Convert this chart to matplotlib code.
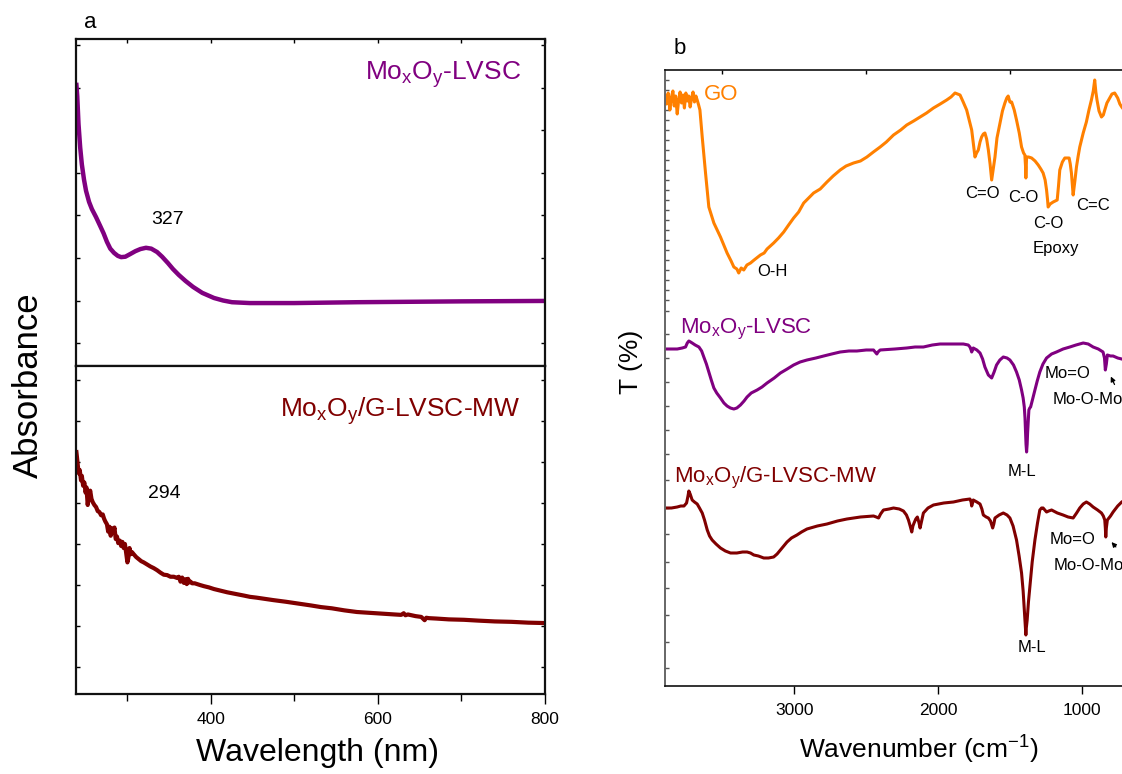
import matplotlib
matplotlib.use('Agg')
import matplotlib.pyplot as plt

plt.rcParams['font.family'] = ['Liberation Sans', 'DejaVu Sans']
plt.rcParams['mathtext.fontset'] = 'custom'
plt.rcParams['mathtext.rm'] = 'Liberation Sans'
plt.rcParams['mathtext.it'] = 'Liberation Sans:italic'
plt.rcParams['mathtext.default'] = 'rm'

# ---------------- data: UV-vis (panel a) ----------------
uv_wl_lvsc = [239.5, 240.5, 242, 244, 246, 248.6, 251, 254.6, 258, 263,
              268, 272, 276, 280, 284.5, 289, 293, 298, 303.6, 310,
              316, 322.7, 329, 336, 342, 349, 355, 362, 370, 379,
              390, 404, 415, 425.6, 447, 500, 575, 700, 800]
uv_abs_lvsc = [6.07, 5.80, 5.15, 4.60, 4.20, 3.84, 3.58, 3.32, 3.15, 2.96,
               2.75, 2.58, 2.38, 2.22, 2.12, 2.05, 2.02, 2.03, 2.09, 2.16,
               2.21, 2.24, 2.22, 2.14, 2.03, 1.88, 1.74, 1.60, 1.46, 1.32,
               1.18, 1.06, 1.00, 0.96, 0.94, 0.94, 0.96, 0.98, 0.99]

uv_wl_mw = [239.5, 240.5, 241.5, 242.5, 243.5, 245, 246, 247.5, 249, 250.5,
            251.5, 253, 254.5, 256, 257.5, 259, 261, 263, 265, 267,
            269, 271, 272.5, 274, 276, 277.5, 279, 280.5, 282, 283.5,
            285, 286.5, 288, 289.5, 291.5, 293, 294.5, 296, 297.5, 299,
            300.5, 301.5, 303, 304.5, 306, 308, 311, 314, 317, 320,
            324, 328, 332, 336, 340, 344, 348, 352, 356, 360,
            362, 364, 366, 368, 370, 371.5, 373, 374.5, 376, 378,
            381, 384, 387, 392, 398, 404, 412, 420, 430, 440,
            447, 455, 465, 475, 490, 500, 510, 520, 532, 545,
            560, 575, 590, 605, 620, 628, 631, 633, 636, 645,
            652, 656, 658, 661, 670, 685, 703, 720, 740, 760,
            780, 801]
uv_abs_mw = [5.24, 5.05, 4.85, 4.72, 4.80, 4.55, 4.66, 4.42, 4.50, 4.25,
             4.38, 3.95, 4.20, 4.30, 4.10, 4.02, 3.95, 3.90, 3.80, 3.78,
             3.70, 3.72, 3.62, 3.55, 3.48, 3.30, 3.42, 3.20, 3.38, 3.28,
             3.40, 3.12, 3.18, 3.02, 3.08, 2.95, 3.05, 2.90, 3.00, 2.78,
             2.55, 2.65, 2.90, 2.75, 2.80, 2.75, 2.68, 2.63, 2.58, 2.55,
             2.50, 2.45, 2.41, 2.36, 2.30, 2.25, 2.24, 2.20, 2.20, 2.17,
             2.20, 2.08, 2.18, 2.05, 2.14, 2.02, 2.15, 2.06, 2.08, 2.04,
             2.04, 2.02, 2.00, 1.97, 1.94, 1.90, 1.86, 1.82, 1.78, 1.74,
             1.71, 1.69, 1.66, 1.63, 1.59, 1.56, 1.53, 1.50, 1.46, 1.43,
             1.38, 1.34, 1.32, 1.30, 1.28, 1.27, 1.31, 1.26, 1.28, 1.24,
             1.22, 1.14, 1.20, 1.19, 1.18, 1.16, 1.15, 1.13, 1.11, 1.10,
             1.08, 1.07]

# ---------------- data: FTIR (panel b) ----------------
ir_wn_go = [3900, 3890, 3878, 3866, 3855, 3845, 3836, 3826, 3815, 3805, 3795, 3785, 3775, 3765,
            3755, 3745, 3735, 3725, 3715, 3705, 3695, 3685, 3676, 3666, 3657, 3641, 3618, 3595,
            3560, 3514, 3468, 3440, 3421, 3400, 3387, 3370, 3352, 3330, 3305, 3280, 3236, 3210,
            3190, 3144, 3110, 3074, 3040, 3005, 2970, 2935, 2900, 2866, 2820, 2773, 2730, 2681,
            2640, 2588, 2540, 2495, 2450, 2403, 2360, 2310, 2260, 2218, 2170, 2125, 2080, 2032,
            1985, 1940, 1910, 1882, 1865, 1847, 1825, 1801, 1785, 1766, 1755, 1743, 1732, 1720,
            1708, 1697, 1685, 1674, 1662, 1650, 1638, 1627, 1615, 1604, 1590, 1569, 1552, 1535,
            1522, 1512, 1500, 1488, 1470, 1454, 1435, 1419, 1405, 1396, 1391, 1389, 1386, 1384,
            1370, 1349, 1325, 1303, 1285, 1269, 1255, 1245, 1238, 1234, 1220, 1199, 1185, 1171,
            1162, 1153, 1135, 1118, 1100, 1088, 1080, 1072, 1065, 1060, 1048, 1037, 1025, 1014,
            990, 968, 950, 933, 920, 910, 902, 894, 880, 863, 850, 840, 825, 806, 790, 771, 750,
            735, 722, 700]
ir_t_go = [590, 582, 593, 576, 589, 595, 580, 590, 572, 586, 594, 583, 591, 578,
           593, 585, 590, 579, 588, 594, 584, 590, 586, 581, 576, 549, 513, 479,
           463, 449, 433, 425, 419, 417, 413, 418, 416, 421, 423, 426, 431, 433,
           437, 443, 448, 454, 461, 468, 474, 483, 488, 493, 497, 504, 510, 516,
           520, 523, 525, 529, 534, 539, 544, 551, 556, 561, 565, 569, 573, 578,
           582, 586, 589, 593, 592, 591, 584, 576, 567, 556, 543, 529, 533, 536,
           544, 549, 552, 553, 547, 536, 522, 506, 518, 529, 548, 563, 575, 583,
           588, 590, 584, 584, 576, 566, 553, 539, 533, 531, 519, 508, 520, 529,
           529, 528, 525, 521, 517, 513, 506, 496, 486, 479, 482, 484, 485, 486,
           500, 516, 524, 528, 528, 528, 522, 513, 500, 491, 505, 519, 530, 539,
           553, 564, 576, 586, 595, 606, 594, 586, 575, 569, 571, 576, 583, 588, 592, 593, 588,
           582, 579, 575]

ir_wn_lvsc = [3900, 3855, 3815, 3780, 3757, 3745, 3734, 3722, 3711, 3690, 3664, 3645, 3630,
              3612, 3595, 3578, 3560, 3540, 3514, 3490, 3468, 3445, 3421, 3400, 3375, 3350,
              3329, 3300, 3259, 3225, 3190, 3140, 3097, 3050, 3005, 2960, 2912, 2850, 2796,
              2740, 2681, 2620, 2565, 2500, 2449, 2432, 2426, 2418, 2403, 2300, 2218, 2160,
              2102, 2040, 1986, 1900, 1824, 1790, 1778, 1770, 1766, 1760, 1755, 1730, 1708,
              1690, 1674, 1650, 1627, 1610, 1593, 1570, 1546, 1520, 1500, 1475, 1454, 1435,
              1419, 1408, 1400, 1395, 1391, 1388, 1384, 1380, 1377, 1372, 1368, 1362, 1356,
              1340, 1326, 1310, 1292, 1270, 1245, 1210, 1176, 1130, 1083, 1040, 990, 955,
              921, 885, 852, 842, 836, 829, 822, 800, 782, 750, 722, 700]
ir_t_lvsc = [337, 337, 337, 338, 339, 343, 345, 344, 343, 341, 339, 335, 329,
             322, 314, 306, 298, 293, 288, 283, 280, 278, 277, 278, 281, 285,
             289, 293, 296, 299, 303, 308, 313, 317, 321, 324, 326, 328, 330,
             332, 334, 335, 335, 336, 336, 333, 332, 334, 336, 337, 338, 339,
             339, 341, 342, 342, 342, 341, 339, 336, 334, 336, 338, 336, 333,
             327, 319, 311, 308, 314, 321, 326, 329, 328, 326, 321, 314, 306,
             296, 288, 279, 268, 253, 242, 234, 242, 253, 266, 276, 278, 279,
             288, 296, 305, 314, 322, 328, 332, 334, 337, 339, 341, 343, 342,
             339, 337, 334, 328, 316, 322, 331, 330, 330, 328, 327, 326]

ir_wn_mw = [3900, 3855, 3815, 3790, 3768, 3750, 3740, 3734, 3725, 3711, 3695, 3676, 3660,
            3641, 3625, 3606, 3590, 3572, 3545, 3514, 3480, 3444, 3400, 3360, 3329, 3305,
            3282, 3250, 3213, 3180, 3144, 3120, 3097, 3075, 3051, 3020, 2982, 2950, 2912,
            2840, 2773, 2700, 2634, 2540, 2449, 2430, 2414, 2400, 2380, 2340, 2310, 2270,
            2241, 2220, 2206, 2194, 2183, 2175, 2167, 2155, 2144, 2134, 2125, 2114, 2102,
            2070, 2032, 1960, 1893, 1830, 1778, 1770, 1766, 1760, 1755, 1730, 1708, 1695,
            1685, 1665, 1650, 1635, 1620, 1612, 1604, 1575, 1546, 1520, 1500, 1478, 1454,
            1436, 1419, 1408, 1396, 1392, 1389, 1386, 1380, 1371, 1361, 1345, 1326, 1308,
            1292, 1280, 1269, 1257, 1245, 1230, 1210, 1170, 1130, 1095, 1060, 1036, 1014,
            990, 968, 945, 921, 890, 863, 850, 840, 836, 833, 829, 822, 800, 782, 750, 722, 700]
ir_t_mw = [178, 178, 179, 180, 180, 183, 190, 195, 192, 186, 184, 182, 178,
           173, 166, 156, 150, 146, 142, 138, 135, 133, 133, 134, 134, 133,
           131, 130, 128, 128, 129, 132, 136, 140, 144, 148, 151, 154, 157,
           160, 162, 165, 167, 169, 170, 169, 168, 172, 176, 177, 178, 177,
           175, 171, 166, 160, 154, 160, 163, 167, 169, 164, 158, 165, 173,
           178, 181, 183, 184, 186, 187, 184, 180, 183, 186, 184, 182, 177,
           171, 169, 168, 165, 158, 162, 168, 171, 173, 171, 168, 160, 146,
           130, 113, 95, 66, 58, 51, 58, 66, 84, 99, 124, 146, 163,
           176, 178, 178, 176, 174, 175, 176, 173, 171, 169, 168, 173, 178,
           182, 184, 182, 179, 176, 173, 170, 166, 158, 149, 158, 166, 170, 174, 180, 184, 186]

# ---------------- styling ----------------
purple = '#800080'
brown = '#800000'
orange = '#FF8000'
W, H = 1122, 774


def box(l, t, r, b):
    return [l / W, 1 - b / H, (r - l) / W, (b - t) / H]


fig = plt.figure(figsize=(W / 100, H / 100), dpi=100)
ax1 = fig.add_axes(box(76, 39, 545, 366))
ax2 = fig.add_axes(box(76, 366, 545, 694))
ax3 = fig.add_axes(box(665, 70, 1168, 686))

# panel a top
ax1.plot(uv_wl_lvsc, uv_abs_lvsc, color=purple, lw=3.2)
ax1.set_xlim(239, 800)
ax1.set_ylim(-0.54, 7.15)
ax1.set_xticks([300, 400, 500, 600, 700, 800])
ax1.set_yticks(range(0, 8))
ax1.tick_params(axis='both', which='both', direction='in', top=True, bottom=False,
                left=True, right=True, labelbottom=False, labelleft=False, length=3, width=1)
ax1.text(0.949, 0.875, r'Mo$_{\mathrm{x}}$O$_{\mathrm{y}}$-LVSC', transform=ax1.transAxes,
         ha='right', va='baseline', color=purple, fontsize=19)
ax1.text(348, 2.9, '327', ha='center', va='center', fontsize=14)

# panel a bottom
ax2.plot(uv_wl_mw, uv_abs_mw, color=brown, lw=3.0)
ax2.set_xlim(239, 800)
ax2.set_ylim(-0.66, 7.34)
ax2.set_xticks([400, 600, 800])
ax2.set_xticks([300, 500, 700], minor=True)
ax2.set_yticks(range(0, 8))
ax2.tick_params(axis='x', which='both', direction='out', bottom=True, top=False, labelsize=12.5,
                width=1, pad=6)
ax2.tick_params(axis='x', which='major', length=7)
ax2.tick_params(axis='x', which='minor', length=5)
ax2.tick_params(axis='y', direction='in', left=True, right=True, labelleft=False, length=3, width=1)
ax2.text(0.949, 0.845, r'Mo$_{\mathrm{x}}$O$_{\mathrm{y}}$/G-LVSC-MW', transform=ax2.transAxes,
         ha='right', va='baseline', color=brown, fontsize=19)
ax2.text(345, 4.24, '294', ha='center', va='center', fontsize=14)

for ax in (ax1, ax2):
    for s in ax.spines.values():
        s.set_linewidth(1.6)
        s.set_color('#111111')

# panel b
ax3.plot(ir_wn_go, ir_t_go, color=orange, lw=2.2)
ax3.plot(ir_wn_lvsc, ir_t_lvsc, color=purple, lw=2.2)
ax3.plot(ir_wn_mw, ir_t_mw, color=brown, lw=2.2)
ax3.set_xlim(3900, 400)
ax3.set_ylim(0, 616)
ax3.set_xticks([3000, 2000, 1000])
ax3.set_xticks([3500, 2500, 1500, 500], minor=True)
ax3.tick_params(axis='x', which='major', direction='out', length=6, width=1, labelsize=12.5,
                top=False, pad=6)
ax3.tick_params(axis='x', which='minor', direction='in', length=3, width=1, bottom=False, top=True)
ytick_h = list(range(606, 380, -10)) + [375, 352, 328, 304, 280, 256, 232, 206, 178, 152, 124,
                                        98, 71, 44, 18]
ax3.set_yticks(ytick_h)
ax3.tick_params(axis='y', direction='in', length=3, width=1, left=True, right=False,
                labelleft=False, color='#555555')
ax3.spines['right'].set_visible(False)
for s in ('top', 'bottom'):
    ax3.spines[s].set_linewidth(1.2)
    ax3.spines[s].set_color('#111111')
ax3.spines['left'].set_linewidth(1.4)
ax3.spines['left'].set_color('#666666')

ax3.text(3632, 592, 'GO', color=orange, fontsize=16, ha='left', va='center')
ax3.text(3799, 353, r'Mo$_{\mathrm{x}}$O$_{\mathrm{y}}$-LVSC', color=purple, fontsize=16,
         ha='left', va='baseline')
ax3.text(3840, 204, r'Mo$_{\mathrm{x}}$O$_{\mathrm{y}}$/G-LVSC-MW', color=brown, fontsize=16,
         ha='left', va='baseline')
sfs = 12
ax3.text(3153, 415, 'O-H', fontsize=sfs, ha='center', va='center')
ax3.text(1694, 493, 'C=O', fontsize=sfs, ha='center', va='center')
ax3.text(1410, 488, 'C-O', fontsize=sfs, ha='center', va='center')
ax3.text(1340, 462, 'C-O', fontsize=sfs, ha='left', va='center')
ax3.text(1340, 437, 'Epoxy', fontsize=sfs, ha='left', va='center')
ax3.text(924, 480, 'C=C', fontsize=sfs, ha='center', va='center')
ax3.text(1097, 312, 'Mo=O', fontsize=sfs, ha='center', va='center')
ax3.text(1201, 286, 'Mo-O-Mo', fontsize=sfs, ha='left', va='center')
ax3.text(1417, 215, 'M-L', fontsize=sfs, ha='center', va='center')
ax3.text(1062, 146, 'Mo=O', fontsize=sfs, ha='center', va='center')
ax3.text(1194, 120, 'Mo-O-Mo', fontsize=sfs, ha='left', va='center')
ax3.text(1347, 38, 'M-L', fontsize=sfs, ha='center', va='center')
arrow = dict(arrowstyle='-|>', color='black', lw=0.9, mutation_scale=7)
ax3.annotate('', xy=(806, 312), xytext=(764, 299), arrowprops=arrow)
ax3.annotate('', xy=(806, 146), xytext=(750, 137), arrowprops=arrow)

# axis titles and panel letters
fig.text(28 / W, 1 - 385 / H, 'Absorbance', rotation=90, ha='center', va='center', fontsize=25)
fig.text(318 / W, 1 - 753 / H, 'Wavelength (nm)', ha='center', va='center', fontsize=23)
fig.text(631 / W, 1 - 362 / H, 'T (%)', rotation=90, ha='center', va='center', fontsize=19)
fig.text(919 / W, 1 - 750 / H, r'Wavenumber (cm$^{\mathrm{-1}}$)', ha='center', va='center',
         fontsize=19)
fig.text(90 / W, 1 - 23 / H, 'a', ha='center', va='center', fontsize=16)
fig.text(680 / W, 1 - 48 / H, 'b', ha='center', va='center', fontsize=16)

fig.savefig('out.png', dpi=100)
